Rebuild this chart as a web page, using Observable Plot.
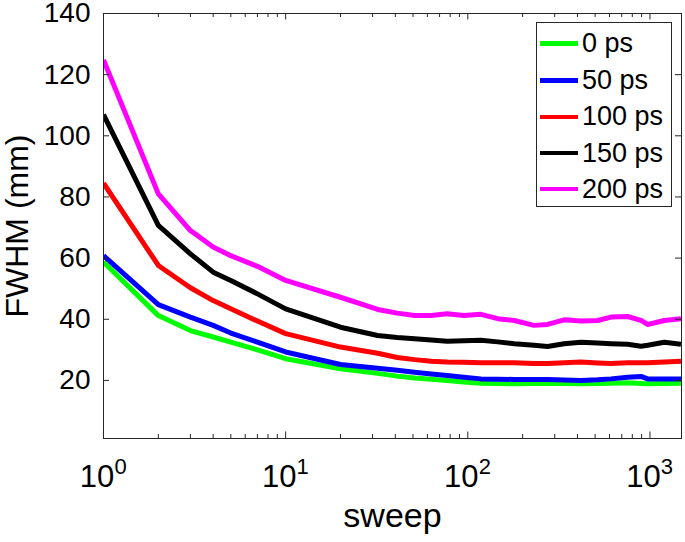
<!DOCTYPE html>
<html>
<head>
<meta charset="utf-8">
<script src="https://cdn.jsdelivr.net/npm/d3@7"></script>
<script src="https://cdn.jsdelivr.net/npm/@observablehq/plot@0.6"></script>
<style>
  body { margin: 0; background: #fff; }
  #wrap { position: relative; width: 685px; height: 542px; font-family: "Liberation Sans", Arial, Helvetica, sans-serif; }
  #legend { position: absolute; left: 536px; top: 22px; width: 136px; height: 185px; border: 1px solid #262626; background: #fff; box-sizing: border-box; }
  .row { position: absolute; left: 3px; height: 30px; display: flex; align-items: center; font-size: 27px; color: #000; white-space: nowrap; }
  .sw { width: 38px; height: 4.5px; margin-right: 4px; }
</style>
</head>
<body>
<div id="wrap"></div>
<script>
const sweep = [1,2,3,4,5,7,10,20,32,41,51,63,77,95,118,146,180,231,274,338,418,516,611,754,893,971,1199,1480];
const fwhm0   = [58.7,41.2,36.3,34.2,32.5,30.0,27.1,23.8,22.3,21.4,20.8,20.4,20.0,19.5,19.1,19.0,18.9,19.0,19.1,19.0,18.9,19.0,19.1,19.2,19.0,18.9,19.0,19.1];
const fwhm50  = [60.8,44.8,40.7,38.0,35.5,32.5,29.3,25.2,24.0,23.3,22.7,22.1,21.6,21.0,20.5,20.4,20.3,20.3,20.3,20.1,20.0,20.2,20.5,21.0,21.3,20.5,20.5,20.5];
const fwhm100 = [84.5,57.6,50.3,46.1,43.4,39.4,35.3,30.9,28.9,27.5,26.8,26.3,26.0,25.9,25.8,25.8,25.8,25.5,25.5,25.8,26.0,25.7,25.5,25.8,25.8,25.8,26.0,26.3];
const fwhm150 = [106.9,70.7,61.4,55.4,52.7,48.3,43.4,37.4,34.7,34.0,33.6,33.2,32.8,33.0,33.1,32.6,32.0,31.5,31.1,32.0,32.5,32.2,32.0,31.8,31.2,31.5,32.5,31.8];
const fwhm200 = [124.8,81.0,69.0,63.6,60.8,57.3,52.7,47.2,43.2,42.0,41.2,41.2,41.8,41.2,41.6,40.2,39.6,38.0,38.3,39.8,39.4,39.6,40.7,40.9,39.6,38.3,39.6,40.2];

const seriesNames = ["0 ps","50 ps","100 ps","150 ps","200 ps"];
const seriesColors = ["#00ff00","#0000ff","#ff0000","#000000","#ff00ff"];
const seriesValues = [fwhm0, fwhm50, fwhm100, fwhm150, fwhm200];

const yTicks = [20,40,60,80,100,120,140];
const xMajor = [1,10,100,1000];
const xMinor = [2,3,4,5,6,7,8,9,20,30,40,50,60,70,80,90,200,300,400,500,600,700,800,900];

const data = [];
seriesNames.forEach((name, i) => {
  sweep.forEach((s, j) => data.push({series: name, sweep: s, fwhm: seriesValues[i][j]}));
});

const W = 685, H = 542;
const mL = 103, mR = 4, mT = 13, mB = 104;
const innerW = W - mL - mR, innerH = H - mT - mB;
const axisColor = "#262626";
const font = "'Liberation Sans', Arial, Helvetica, sans-serif";

const chart = Plot.plot({
  width: W, height: H,
  marginLeft: mL, marginRight: mR, marginTop: mT, marginBottom: mB,
  style: {fontFamily: font, background: "white", color: axisColor, overflow: "visible"},
  x: {type: "log", domain: [1, 1490]},
  y: {domain: [1, 140]},
  color: {domain: seriesNames, range: seriesColors},
  marks: [
    Plot.axisX({ticks: [], label: null}),
    Plot.axisY({ticks: yTicks, tickSize: 0, tickPadding: 13, fontSize: 28, label: null, fill: "#000"}),
    Plot.line(data, {x: "sweep", y: "fwhm", z: "series", stroke: "series", strokeWidth: 5, strokeLinejoin: "round", strokeLinecap: "butt", clip: true}),
    // inward ticks
    Plot.ruleX(xMajor, {x: d => d, stroke: axisColor, insetTop: innerH - 6.5}),
    Plot.ruleX(xMajor, {x: d => d, stroke: axisColor, insetBottom: innerH - 6.5}),
    Plot.ruleX(xMinor, {x: d => d, stroke: axisColor, insetTop: innerH - 4}),
    Plot.ruleX(xMinor, {x: d => d, stroke: axisColor, insetBottom: innerH - 4}),
    Plot.ruleY(yTicks, {y: d => d, stroke: axisColor, insetRight: innerW - 6}),
    Plot.ruleY(yTicks, {y: d => d, stroke: axisColor, insetLeft: innerW - 6}),
    Plot.frame({stroke: axisColor, strokeWidth: 1}),
    // x tick labels 10^n
    Plot.text(xMajor, {x: d => d, frameAnchor: "bottom", lineAnchor: "middle", textAnchor: "middle", text: () => "10", fontSize: 31, dx: -6.5, dy: 39, fill: "#000"}),
    Plot.text(xMajor, {x: d => d, frameAnchor: "bottom", lineAnchor: "middle", textAnchor: "middle", text: d => String(Math.round(Math.log10(d))), fontSize: 22, dx: 17, dy: 28, fill: "#000"}),
    // axis labels
    Plot.text(["sweep"], {frameAnchor: "bottom", lineAnchor: "middle", textAnchor: "middle", text: d => d, fontSize: 34, dy: 78, fill: "#000"}),
    Plot.text(["FWHM (mm)"], {frameAnchor: "left", lineAnchor: "middle", textAnchor: "middle", text: d => d, fontSize: 32, rotate: -90, dx: -86, fill: "#000"})
  ]
});

const wrap = document.getElementById("wrap");
wrap.appendChild(chart);

const legend = document.createElement("div");
legend.id = "legend";
const rowCenters = [20.7, 57.5, 93.8, 130, 166];
seriesNames.forEach((name, i) => {
  const row = document.createElement("div");
  row.className = "row";
  row.style.top = (rowCenters[i] - 15) + "px";
  const sw = document.createElement("div");
  sw.className = "sw";
  sw.style.background = seriesColors[i];
  const label = document.createElement("span");
  label.textContent = name;
  row.appendChild(sw);
  row.appendChild(label);
  legend.appendChild(row);
});
wrap.appendChild(legend);
</script>
</body>
</html>
